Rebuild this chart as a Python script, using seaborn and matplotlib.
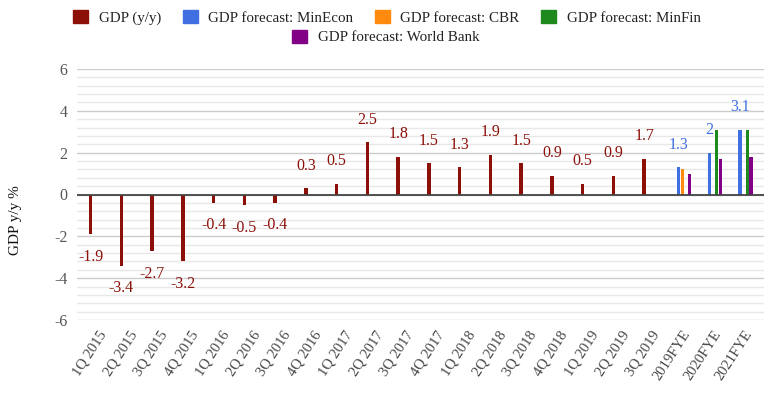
import numpy as np
import pandas as pd
import matplotlib
matplotlib.use("Agg")
import matplotlib.pyplot as plt
from matplotlib.patches import Patch
from matplotlib.ticker import MultipleLocator
import seaborn as sns

# ------------------------------------------------------------
# data
# ------------------------------------------------------------
periods = ["1Q 2015", "2Q 2015", "3Q 2015", "4Q 2015",
           "1Q 2016", "2Q 2016", "3Q 2016", "4Q 2016",
           "1Q 2017", "2Q 2017", "3Q 2017", "4Q 2017",
           "1Q 2018", "2Q 2018", "3Q 2018", "4Q 2018",
           "1Q 2019", "2Q 2019", "3Q 2019",
           "2019FYE", "2020FYE", "2021FYE"]

gdp = [-1.9, -3.4, -2.7, -3.2, -0.4, -0.5, -0.4, 0.3, 0.5, 2.5,
       1.8, 1.5, 1.3, 1.9, 1.5, 0.9, 0.5, 0.9, 1.7]

fye_periods = ["2019FYE", "2020FYE", "2021FYE"]
minecon    = [1.3, 2.0, 3.1]
cbr        = [1.2, np.nan, np.nan]
minfin     = [np.nan, 3.1, 3.1]
world_bank = [1.0, 1.7, 1.8]

series = ["GDP (y/y)", "GDP forecast: MinEcon", "GDP forecast: CBR",
          "GDP forecast: MinFin", "GDP forecast: World Bank"]
colors = ["#8c1008", "#3f6fe0", "#ff8a0d", "#1e8a1e", "#820086"]
palette = dict(zip(series, colors))

rows = [(p, series[0], v) for p, v in zip(periods, gdp)]
for name, vals in zip(series[1:], [minecon, cbr, minfin, world_bank]):
    rows += [(p, name, v) for p, v in zip(fye_periods, vals) if not np.isnan(v)]
df = pd.DataFrame(rows, columns=["period", "series", "value"])

# ------------------------------------------------------------
# plot
# ------------------------------------------------------------
sns.set_style("white")
plt.rcParams["font.family"] = ["Liberation Serif", "DejaVu Serif"]
plt.rcParams["axes.unicode_minus"] = False

fig = plt.figure(figsize=(7.8, 3.93), dpi=100)
ax = fig.add_axes([77 / 780, 1 - 320 / 393, 687 / 780, 251 / 393])

sns.barplot(data=df, x="period", y="value", hue="series",
            order=periods, hue_order=series, palette=palette,
            width=0.595, gap=0.08, errorbar=None, legend=False,
            saturation=1, linewidth=0, ax=ax)

# value labels for actual GDP and MinEcon forecasts
for cont, col in zip(ax.containers[:2], colors[:2]):
    for bar in cont:
        v = bar.get_height()
        if np.isnan(v):
            continue
        y = v + 1.08 if v >= 0 else v - 1.08
        ax.text(bar.get_x() + bar.get_width() / 2, y, f"{v:g}",
                ha="center", va="center", color=col, fontsize=11.5)

ax.set_xlim(-0.683, 21.66)
ax.set_ylim(-6, 6)
ax.yaxis.set_major_locator(MultipleLocator(2))
ax.yaxis.set_minor_locator(MultipleLocator(0.4))
ax.grid(axis="y", which="major", color="#cccccc", lw=1)
ax.grid(axis="y", which="minor", color="#e8e8e8", lw=1)
ax.set_axisbelow(True)
ax.axhline(0, color="#444444", lw=1.3, zorder=1)
for s in ax.spines.values():
    s.set_visible(False)

ax.tick_params(axis="y", which="both", length=0, pad=7, labelsize=11.5,
               labelcolor="#555555")
ax.tick_params(axis="x", length=0, pad=6, labelsize=10.5, labelcolor="#444444")
plt.setp(ax.get_xticklabels(), rotation=57, ha="right",
         rotation_mode="anchor")

ax.set_xlabel("")
ax.set_ylabel("")
fig.text(15.5 / 780, 1 - 220 / 393, "GDP y/y %", rotation=90,
         ha="center", va="center", fontsize=11, color="#111111")

# legend: four entries in the first row, one centred below
handles = [Patch(facecolor=c, edgecolor=c) for c in colors]
leg_kw = dict(frameon=False, fontsize=10.8, handlelength=1.0,
              handleheight=1.0, handletextpad=0.7, columnspacing=1.45,
              labelcolor="#222222")
fig.legend(handles[:4], series[:4], loc="center", ncol=4,
           bbox_to_anchor=(387 / 780, 1 - 17.5 / 393), **leg_kw)
fig.legend(handles[4:], series[4:], loc="center", ncol=1,
           bbox_to_anchor=(386 / 780, 1 - 37 / 393), **leg_kw)

fig.savefig("out.png", dpi=100)
plt.close(fig)
